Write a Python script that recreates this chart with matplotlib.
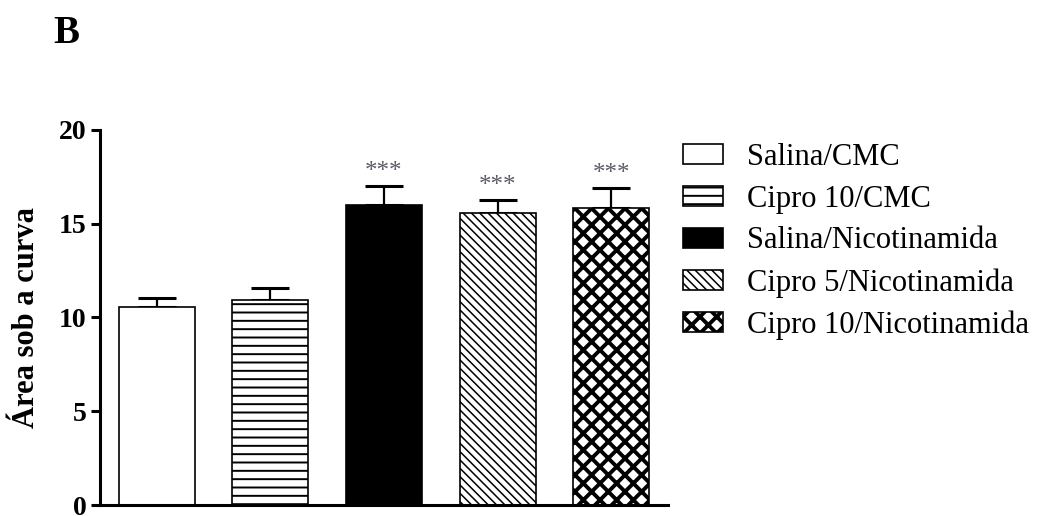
import matplotlib
matplotlib.use("Agg")
import matplotlib.pyplot as plt
import numpy as np

# group labels, means and upper error (SEM)
groups = ["Salina/CMC", "Cipro 10/CMC", "Salina/Nicotinamida",
          "Cipro 5/Nicotinamida", "Cipro 10/Nicotinamida"]
means = [10.55, 10.95, 16.0, 15.55, 15.85]
errors = [0.5, 0.6, 1.0, 0.7, 1.05]
signif = ["", "", "***", "***", "***"]

faces = ["white", "white", "black", "white", "white"]
hatches = [None, "--", None, "\\\\\\\\", "xx"]
hatch_widths = [1.2, 1.4, 1.2, 1.1, 2.8]

plt.rcParams["font.family"] = ["Liberation Serif", "DejaVu Serif"]

fig = plt.figure(figsize=(10.47, 5.16), dpi=100)
ax = fig.add_axes([0.0955, 0.0213, 0.5425, 0.727])

x = np.arange(len(groups))
for i in range(len(groups)):
    b = ax.bar(x[i], means[i], width=0.67, color=faces[i], edgecolor="black",
               linewidth=1.2, hatch=hatches[i], label=groups[i], zorder=2)
    for p in b:
        if hasattr(p, "set_hatch_linewidth"):
            p.set_hatch_linewidth(hatch_widths[i])

ax.errorbar(x, means, yerr=[np.zeros(len(means)), errors], fmt="none",
            ecolor="black", elinewidth=1.6, capsize=13.5, capthick=2.2,
            zorder=1)

for i in range(len(groups)):
    if signif[i]:
        ax.text(x[i], means[i] + errors[i] + 0.15, signif[i], ha="center",
                va="bottom", fontsize=18, color="#5a5a66")

ax.set_xlim(-0.5, 4.5)
ax.set_ylim(0, 20)
ax.set_yticks([0, 5, 10, 15, 20])
ax.set_xticks([])
for s in ["top", "right"]:
    ax.spines[s].set_visible(False)
for s in ["left", "bottom"]:
    ax.spines[s].set_linewidth(2.2)
ax.tick_params(axis="y", length=6.5, width=2.2, labelsize=20, pad=3)
for t in ax.get_yticklabels():
    t.set_fontweight("bold")
ax.set_ylabel("Área sob a curva", fontsize=22, fontweight="bold", labelpad=13)

leg = ax.legend(loc="upper left", bbox_to_anchor=(0.6523, 0.7234),
                bbox_transform=fig.transFigure, frameon=False, fontsize=22,
                handlelength=1.31, handleheight=0.62, handletextpad=0.78,
                labelspacing=0.42, borderaxespad=0, borderpad=0)
# legend swatches get their own patches, so copy the hatch widths over
for h, w in zip(leg.legend_handles, hatch_widths):
    if hasattr(h, "set_hatch_linewidth"):
        h.set_hatch_linewidth(w)

fig.text(0.063, 0.935, "B", fontsize=28, fontweight="bold", ha="center",
         va="center")

fig.savefig("out.png", dpi=100)
